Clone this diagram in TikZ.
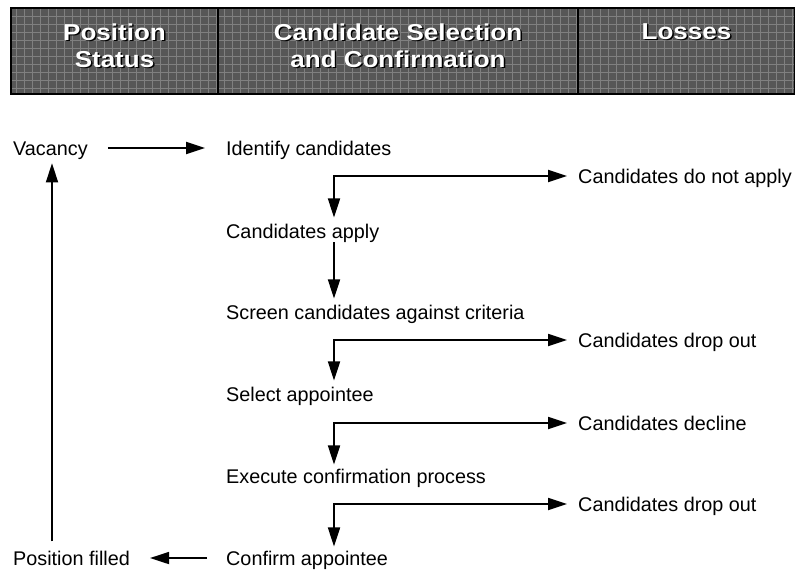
\documentclass[tikz,border=0pt]{standalone}
\usepackage{fontspec}
\setmainfont{Liberation Sans}
\usetikzlibrary{arrows.meta,calc}
\definecolor{bandfill}{gray}{0.34}
\definecolor{bandgrid}{gray}{0.5}
\begin{document}
\begin{tikzpicture}[x=1pt,y=1pt,
  lbl/.style={anchor=base west, inner sep=0pt, font=\fontsize{19.8}{24}\selectfont},
  hdr/.style={anchor=base, align=center, inner sep=0pt, font=\fontsize{23}{27}\selectfont\bfseries, xscale=1.13, text=white},
  hdrshadow/.style={hdr, text=black},
  flow/.style={line width=1.8pt, -{Triangle[length=19pt,width=12pt]}},
  split/.style={line width=1.8pt, {Triangle[length=19pt,width=12pt]}-{Triangle[length=19pt,width=12pt]}},
  bandline/.style={line width=2pt}
]
\useasboundingbox (0,0) rectangle (795,-571);
% header band
\fill[bandfill] (11,-8) rectangle (795,-94);
\begin{scope}
  \clip (11,-8) rectangle (795,-94);
  \draw[bandgrid, line width=0.8pt, step=8] (11,-8) grid (795,-94);
\end{scope}
\draw[bandline] (11,-8) rectangle (795,-94);
\draw[bandline] (218,-8) -- (218,-94);
\draw[bandline] (578,-8) -- (578,-94);
% header texts
\node[hdrshadow] (h1s) at (116,-68.5) {Position\\Status};
\node[hdr] (h1) at (114.5,-67) {Position\\Status};
\node[hdrshadow] (h2s) at (399.5,-68.5) {Candidate Selection\\and Confirmation};
\node[hdr] (h2) at (398,-67) {Candidate Selection\\and Confirmation};
\node[hdrshadow] (h3s) at (688,-40.5) {Losses};
\node[hdr] (h3) at (686.5,-39) {Losses};
% body nodes
\node[lbl] (vac) at (13,-155) {Vacancy};
\node[lbl] (ident) at (226,-155) {Identify candidates};
\node[lbl] (nap) at (578,-183) {Candidates do not apply};
\node[lbl] (apply) at (226,-238) {Candidates apply};
\node[lbl] (screen) at (226,-319) {Screen candidates against criteria};
\node[lbl] (drop1) at (578,-347) {Candidates drop out};
\node[lbl] (select) at (226,-401) {Select appointee};
\node[lbl] (decl) at (578,-430) {Candidates decline};
\node[lbl] (exec) at (226,-483) {Execute confirmation process};
\node[lbl] (drop2) at (578,-511) {Candidates drop out};
\node[lbl] (conf) at (226,-565) {Confirm appointee};
\node[lbl] (filled) at (13,-565) {Position filled};
% junctions
\coordinate (j1) at (334,-176);
\coordinate (j2) at (334,-340);
\coordinate (j3) at (334,-423);
\coordinate (j4) at (334,-504);
\coordinate (lft) at (52,-300);
% connectors
\draw[flow, shorten <=20pt, shorten >=21pt] ([yshift=7]vac.base east) -- ([yshift=7]ident.base west);
\draw[split, shorten <=6pt, shorten >=11pt] (j1 |- apply.north) -- (j1) -- (j1 -| nap.west);
\draw[flow, shorten >=6pt] (j1 |- apply.south) -- (j1 |- screen.north);
\draw[split, shorten <=6pt, shorten >=11pt] (j2 |- select.north) -- (j2) -- (j2 -| drop1.west);
\draw[split, shorten <=4pt, shorten >=11pt] (j3 |- exec.north) -- (j3) -- (j3 -| decl.west);
\draw[split, shorten <=4pt, shorten >=11pt] (j4 |- conf.north) -- (j4) -- (j4 -| drop2.west);
\draw[flow, shorten <=19pt, shorten >=20pt] ([yshift=7]conf.base west) -- ([yshift=7]filled.base east);
\draw[flow, shorten <=9pt, shorten >=4pt] (lft |- filled.north) -- (lft |- vac.south);
\end{tikzpicture}
\end{document}
